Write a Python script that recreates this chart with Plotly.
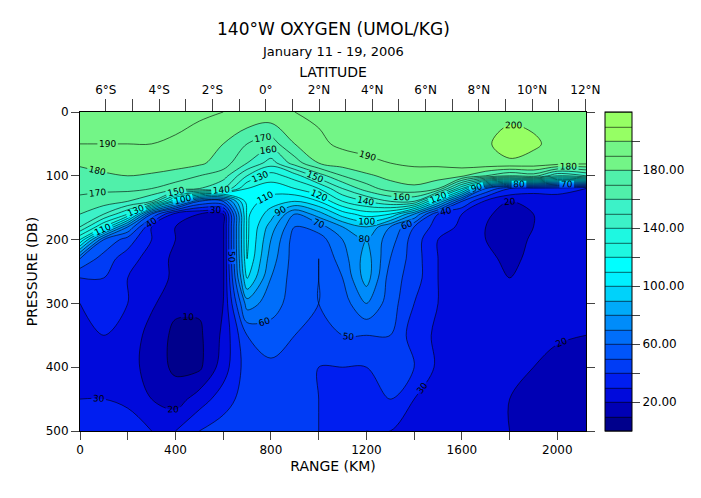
import plotly.graph_objects as go

# range (km) of each column, pressure (db) of each row
range_km = [0, 100, 200, 300, 400, 500, 600, 700, 800, 900, 1000,
            1100, 1200, 1300, 1400, 1500, 1600, 1700, 1800, 1900, 2000, 2120]
pressure = [0, 50, 80, 100, 120, 140, 160, 180, 200, 230, 260, 300, 350, 400, 450, 500]

# oxygen (umol/kg), one list per pressure level
d0 = [195, 195, 195, 195, 195, 192, 190, 190, 188, 190, 192, 195, 195, 195, 195, 195, 195, 196, 198, 198, 196, 196]
d50 = [190, 190, 190, 190, 188, 185, 180, 170, 165, 180, 188, 192, 193, 194, 194, 195, 196, 199, 203, 201, 198, 197]
d80 = [182, 185, 188, 188, 185, 182, 175, 160, 145, 165, 180, 185, 188, 190, 192, 192, 195, 198, 199, 198, 196, 193]
d100 = [175, 178, 180, 178, 175, 170, 165, 140, 125, 135, 155, 170, 178, 183, 185, 185, 182, 170, 160, 165, 140, 150]
d120 = [172, 172, 173, 170, 165, 160, 150, 120, 115, 120, 130, 150, 165, 175, 178, 170, 120, 60, 40, 35, 35, 30]
d140 = [168, 165, 160, 150, 100, 60, 60, 115, 105, 100, 110, 130, 140, 150, 150, 100, 50, 28, 20, 22, 24, 24]
d160 = [160, 150, 130, 60, 25, 20, 20, 112, 95, 70, 85, 105, 115, 110, 80, 40, 30, 22, 15, 20, 22, 22]
d180 = [150, 120, 70, 30, 20, 18, 18, 112, 85, 60, 65, 80, 90, 70, 50, 35, 28, 20, 12, 20, 22, 22]
d200 = [120, 60, 45, 30, 20, 18, 18, 112, 80, 55, 55, 70, 80, 65, 45, 30, 26, 20, 14, 22, 22, 22]
d230 = [60, 45, 35, 25, 18, 18, 18, 110, 75, 55, 50, 65, 85, 60, 45, 30, 26, 22, 18, 22, 24, 24]
d260 = [40, 40, 30, 25, 18, 18, 18, 102, 70, 55, 50, 60, 85, 55, 45, 30, 26, 22, 20, 24, 24, 24]
d300 = [30, 35, 30, 22, 12, 12, 20, 75, 65, 55, 50, 55, 70, 55, 40, 30, 26, 24, 22, 24, 24, 22]
d350 = [25, 30, 28, 15, 8, 8, 22, 50, 55, 50, 45, 50, 50, 50, 35, 28, 26, 24, 22, 22, 22, 20]
d400 = [25, 28, 25, 15, 8, 8, 25, 45, 48, 45, 40, 40, 40, 45, 40, 28, 25, 24, 22, 20, 15, 18]
d450 = [30, 30, 28, 20, 15, 25, 35, 45, 48, 45, 40, 35, 35, 40, 30, 25, 24, 24, 20, 18, 15, 18]
d500 = [40, 40, 35, 30, 30, 40, 45, 50, 50, 45, 40, 35, 30, 30, 25, 25, 24, 22, 20, 20, 18, 18]
oxygen = [d0, d50, d80, d100, d120, d140, d160, d180, d200, d230, d260, d300, d350, d400, d450, d500]

lat_vals = list(range(-6, 13))
lat_text = [(f"{abs(v)}°S" if v < 0 else (f"{v}°N" if v > 0 else "0°")) if v % 2 == 0 else "" for v in lat_vals]

# one colour per 10 umol/kg band, 0..220
band_colors = [
    (0, 0, 140), (0, 0, 180), (0, 10, 220), (0, 30, 240), (0, 60, 245), (0, 85, 250),
    (0, 110, 250), (0, 140, 250), (0, 170, 250), (0, 210, 250), (0, 240, 255), (0, 255, 255),
    (30, 248, 225), (30, 248, 225), (60, 242, 200), (60, 242, 200), (80, 240, 170), (80, 240, 170),
    (115, 245, 135), (115, 245, 135), (150, 255, 100), (150, 255, 100),
]
n = len(band_colors)
cscale = []
for i, c in enumerate(band_colors):
    col = "rgb(%d,%d,%d)" % c
    cscale.append([i / n, col])
    cscale.append([(i + 1) / n, col])

fnt = dict(family="DejaVu Sans", size=12, color="black")

fig = go.Figure()
fig.add_trace(go.Contour(
    x=range_km, y=pressure, z=oxygen,
    colorscale=cscale, zmin=0, zmax=220,
    contours=dict(start=0, end=220, size=10, coloring="fill", showlabels=True, labelformat=".0f",
                  labelfont=dict(size=9, color="black", family="DejaVu Sans")),
    line=dict(color="black", width=0.6),
    colorbar=dict(x=1.0375, xanchor="left", y=0.5, yanchor="middle", len=1, lenmode="fraction",
                  thickness=27, ypad=0, xpad=0,
                  outlinecolor="black", outlinewidth=1,
                  tickvals=[20, 40, 60, 80, 100, 120, 140, 160, 180, 200],
                  ticktext=["20.00", "", "60.00", "", "100.00", "", "140.00", "", "180.00", ""],
                  ticks="outside", ticklen=8, tickfont=fnt),
))
# invisible trace so the latitude axis shows
fig.add_trace(go.Scatter(x=[-6.97, 12.02], y=[0, 0], xaxis="x2", mode="markers",
                         marker=dict(opacity=0), showlegend=False, hoverinfo="skip"))

ml, mr, mt, mb = 72, 123, 104, 75
fig.update_layout(
    width=701, height=498, paper_bgcolor="white", plot_bgcolor="white",
    margin=dict(l=ml, r=mr, t=mt, b=mb, autoexpand=False), font=fnt, showlegend=False,
    xaxis=dict(range=[0, 2120], tickvals=[0, 200, 400, 600, 800, 1000, 1200, 1400, 1600, 1800, 2000],
               ticktext=["0", "", "400", "", "800", "", "1200", "", "1600", "", "2000"],
               ticks="outside", ticklen=8, showgrid=False, zeroline=False, showline=True, automargin=False,
               linecolor="black", title=dict(text="RANGE (KM)", standoff=4)),
    xaxis2=dict(range=[-6.97, 12.02], overlaying="x", side="top", tickvals=lat_vals, ticktext=lat_text,
                ticks="outside", ticklen=12, showgrid=False, zeroline=False, showline=True, automargin=False,
                linecolor="black", title=dict(text="LATITUDE", standoff=2)),
    yaxis=dict(range=[500, 0], tickvals=[0, 100, 200, 300, 400, 500], ticks="outside", ticklen=8,
               mirror="ticks", showgrid=False, zeroline=False, showline=True, linecolor="black",
               automargin=False, title=dict(text="PRESSURE (DB)", standoff=4)),
)
# titles at pixel positions (page offset of 7px), converted to paper coords
ph = 498 - mt - mb
pw = 701 - ml - mr
for text, ypx, size in [("140°W OXYGEN (UMOL/KG)", 21, 17), ("January 11 - 19, 2006", 43, 13)]:
    fig.add_annotation(text=text, x=(325 - ml) / pw, y=1 + (mt - ypx) / ph, xref="paper", yref="paper",
                       xanchor="center", yanchor="middle", showarrow=False,
                       font=dict(family="DejaVu Sans", size=size))

fig.write_html("out.html")
